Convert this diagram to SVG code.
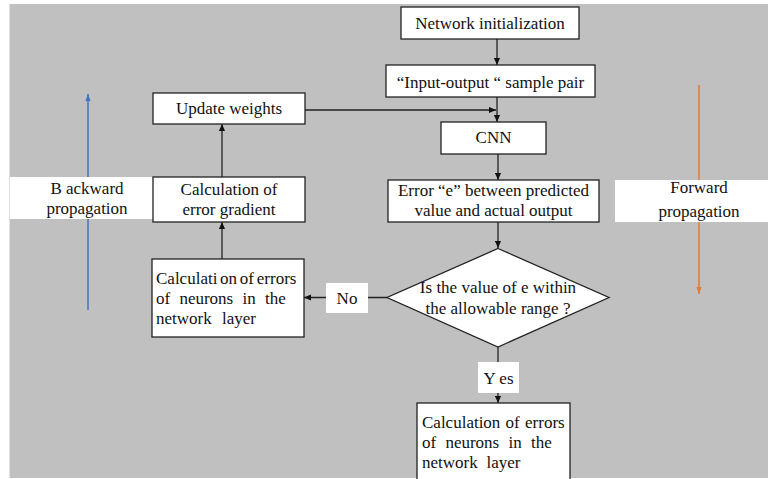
<svg xmlns="http://www.w3.org/2000/svg" width="768" height="479" viewBox="0 0 768 479">
<defs>
<style>
.box{fill:#fff;stroke:#222;stroke-width:1.3}
.lbl{fill:#fff;stroke:none}
text{font-family:'Liberation Serif','Times New Roman',Times,serif;font-size:17px;fill:#111}
.c{text-anchor:middle}
.ln{stroke:#222;stroke-width:1.3;fill:none}
</style>
<marker id="ah" viewBox="0 0 8 8" refX="8" refY="4" markerWidth="7" markerHeight="7" markerUnits="userSpaceOnUse" orient="auto">
<path d="M0,0.5 L8,4 L0,7.5 Z" fill="#111"/>
</marker>
<marker id="ahb" viewBox="0 0 8 8" refX="8" refY="4" markerWidth="7" markerHeight="7" markerUnits="userSpaceOnUse" orient="auto">
<path d="M0,1 L8,4 L0,7 Z" fill="#4472c4"/>
</marker>
<marker id="aho" viewBox="0 0 8 8" refX="8" refY="4" markerWidth="7" markerHeight="7" markerUnits="userSpaceOnUse" orient="auto">
<path d="M0,1 L8,4 L0,7 Z" fill="#e07b39"/>
</marker>
</defs>
<rect x="0" y="0" width="768" height="479" fill="#fff"/>
<rect x="9.5" y="4" width="758.5" height="474" fill="#c0c0c0"/>

<g id="side-arrows">
<line x1="88" y1="310" x2="88" y2="94" stroke="#4472c4" stroke-width="1.5" marker-end="url(#ahb)"/>
<line x1="699" y1="85" x2="699" y2="294" stroke="#e07b39" stroke-width="1.5" marker-end="url(#aho)"/>
</g>

<g id="connectors">
<line class="ln" x1="497" y1="39" x2="497" y2="65" marker-end="url(#ah)"/>
<line class="ln" x1="497" y1="97" x2="497" y2="122" marker-end="url(#ah)"/>
<line class="ln" x1="305" y1="110" x2="496" y2="110" marker-end="url(#ah)"/>
<line class="ln" x1="498" y1="154" x2="498" y2="180" marker-end="url(#ah)"/>
<line class="ln" x1="498" y1="222" x2="498" y2="248" marker-end="url(#ah)"/>
<line class="ln" x1="387" y1="297.5" x2="304" y2="297.5" marker-end="url(#ah)"/>
<line class="ln" x1="498" y1="347" x2="498" y2="403" marker-end="url(#ah)"/>
<line class="ln" x1="222" y1="259" x2="222" y2="222" marker-end="url(#ah)"/>
<line class="ln" x1="222" y1="177" x2="222" y2="124" marker-end="url(#ah)"/>
</g>

<g id="backward-label">
<rect class="lbl" x="10" y="177" width="143" height="42"/>
<text class="c" x="87" y="194">B ackward</text>
<text class="c" x="87" y="214">propagation</text>
</g>
<g id="forward-label">
<rect class="lbl" x="615" y="180" width="153" height="42"/>
<text class="c" x="699" y="193">Forward</text>
<text class="c" x="699" y="217">propagation</text>
</g>

<g id="n-init">
<rect class="box" x="401" y="7" width="178" height="32"/>
<text class="c" x="490" y="28.5">Network initialization</text>
</g>
<g id="n-sample">
<rect class="box" x="386" y="65" width="209" height="32"/>
<text class="c" x="490.5" y="87.5">“Input-output “ sample pair</text>
</g>
<g id="n-cnn">
<rect class="box" x="441" y="122" width="105" height="32"/>
<text class="c" x="493.5" y="142.5">CNN</text>
</g>
<g id="n-error">
<rect class="box" x="388" y="180" width="211" height="42"/>
<text class="c" x="493.5" y="196">Error “e” between predicted</text>
<text class="c" x="493.5" y="216">value and actual output</text>
</g>
<g id="n-decision">
<polygon class="box" points="498,248.5 609,297.5 498,347 387,297.5"/>
<text class="c" x="498" y="293">Is the value of e within</text>
<text class="c" x="498" y="314">the allowable range ?</text>
</g>
<g id="l-no">
<rect class="lbl" x="326" y="283" width="42" height="30"/>
<text class="c" x="347" y="303.5">No</text>
</g>
<g id="l-yes">
<rect class="lbl" x="478" y="362" width="41" height="31"/>
<text class="c" x="498.5" y="383.5">Y es</text>
</g>
<g id="n-errors-bottom">
<rect class="box" x="417" y="403" width="153" height="80"/>
<text x="422" y="427.5" word-spacing="1">Calculation of errors</text>
<text x="422" y="447.5" word-spacing="5">of neurons in the</text>
<text x="422" y="467.5" word-spacing="4.5">network layer</text>
</g>
<g id="n-update">
<rect class="box" x="153" y="93" width="152" height="31"/>
<text class="c" x="229" y="114">Update weights</text>
</g>
<g id="n-gradient">
<rect class="box" x="153" y="177" width="152" height="45"/>
<text class="c" x="229" y="194.5">Calculation of</text>
<text class="c" x="229" y="214.5">error gradient</text>
</g>
<g id="n-errors-left">
<rect class="box" x="152" y="259" width="152" height="78"/>
<text x="156" y="283.5" word-spacing="-1.5">Calculati on of errors</text>
<text x="156" y="303.5" word-spacing="5">of neurons in the</text>
<text x="156" y="323.5" word-spacing="6">network layer</text>
</g>
</svg>
